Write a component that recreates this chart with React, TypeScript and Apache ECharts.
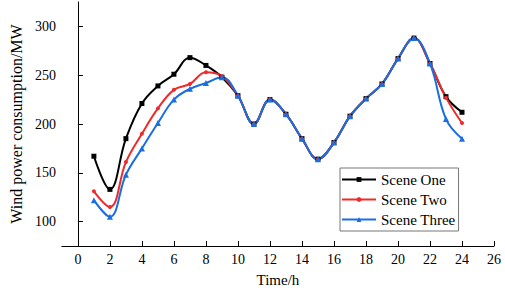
import React, { useEffect, useRef } from "react";
import * as echarts from "echarts";

const hours = [1, 2, 3, 4, 5, 6, 7, 8, 9, 10, 11, 12, 13, 14, 15, 16, 17, 18, 19, 20, 21, 22, 23, 24];
const sceneOne = [167, 133, 185, 221, 239, 251, 268, 260, 248, 229, 200, 225, 210, 185, 164, 181, 208, 226, 241, 267, 288, 262, 228, 212];
const sceneTwo = [131, 115, 161, 190, 216, 235, 241, 253, 249, 229, 200, 225, 210, 185, 164, 181, 208, 226, 241, 267, 288, 262, 227, 201];
const sceneThree = [122, 105, 148, 175, 201, 225, 236, 242, 248, 229, 200, 225, 210, 185, 164, 181, 208, 226, 241, 267, 288, 262, 205, 185];
const xTicks = [0, 2, 4, 6, 8, 10, 12, 14, 16, 18, 20, 22, 24, 26];
const yTicks = [100, 150, 200, 250, 300];
const seriesNames = ["Scene One", "Scene Two", "Scene Three"];

const FONT = "'Liberation Serif', 'Times New Roman', serif";

export default function App() {
  const ref = useRef<HTMLDivElement>(null);
  useEffect(() => {
    if (!ref.current) return;
    const chart = echarts.init(ref.current, null, { renderer: "svg" });
    const pairs = (vals: number[]) => hours.map((h, i) => [h, vals[i]]);
    const mk = (name: string, vals: number[], color: string, symbol: string, size: number) => ({
      name,
      type: "line",
      data: pairs(vals),
      smooth: 0.4,
      symbol,
      symbolSize: size,
      lineStyle: { color, width: 2 },
      itemStyle: { color },
      z: 3,
    });
    chart.setOption({
      animation: false,
      backgroundColor: "#ffffff",
      grid: { left: 49, right: 11, top: 2, bottom: 43 },
      legend: {
        orient: "vertical",
        left: 340,
        top: 168,
        data: seriesNames,
        itemWidth: 34,
        itemHeight: 6,
        itemGap: 5,
        padding: [4, 3, 4, 1],
        borderColor: "#777",
        borderWidth: 1,
        textStyle: { fontFamily: FONT, fontSize: 15, color: "#000" },
      },
      xAxis: {
        type: "value",
        min: -1,
        max: 26,
        name: "Time/h",
        nameLocation: "middle",
        nameGap: 26,
        nameTextStyle: { fontFamily: FONT, fontSize: 15, color: "#000" },
        axisLine: { show: true, lineStyle: { color: "#000", width: 1 } },
        axisTick: { show: true, inside: true, length: 5, customValues: xTicks, lineStyle: { color: "#000" } },
        axisLabel: { customValues: xTicks, fontFamily: FONT, fontSize: 14, color: "#000", margin: 6 },
        splitLine: { show: false },
      },
      yAxis: {
        type: "value",
        min: 75,
        max: 325,
        name: "Wind power consumption/MW",
        nameLocation: "middle",
        nameGap: 25,
        nameTextStyle: { fontFamily: FONT, fontSize: 16, color: "#000" },
        axisLine: { show: true, lineStyle: { color: "#000", width: 1 } },
        axisTick: { show: true, inside: true, length: 5, customValues: yTicks, lineStyle: { color: "#000" } },
        axisLabel: { customValues: yTicks, fontFamily: FONT, fontSize: 14, color: "#000", margin: 6 },
        splitLine: { show: false },
      },
      series: [
        mk(seriesNames[0], sceneOne, "#000000", "rect", 5),
        mk(seriesNames[1], sceneTwo, "#f02a2a", "circle", 4),
        mk(seriesNames[2], sceneThree, "#1a6ee0", "triangle", 6),
      ],
    });
    return () => chart.dispose();
  }, []);
  return <div ref={ref} style={{ position: "fixed", left: 0, top: 0, width: 505, height: 292 }} />;
}
